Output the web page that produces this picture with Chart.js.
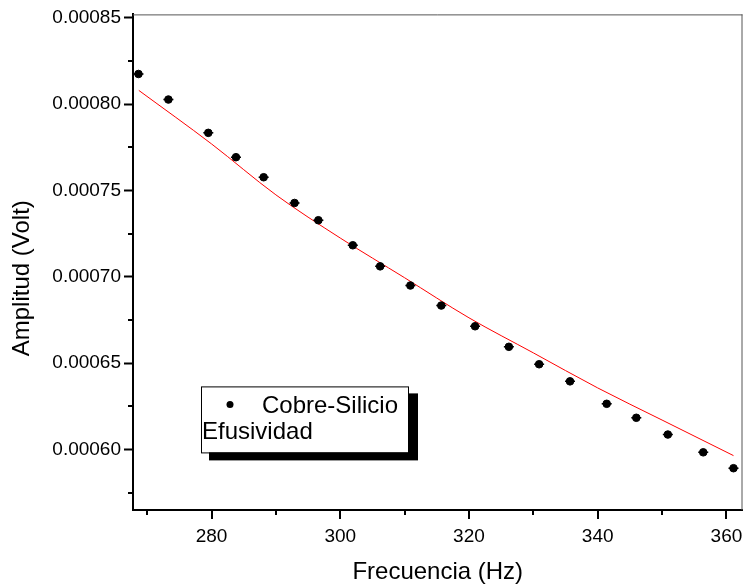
<!DOCTYPE html>
<html>
<head>
<meta charset="utf-8">
<script src="https://cdn.jsdelivr.net/npm/chart.js@4.4.0/dist/chart.umd.min.js"></script>
<style>
  body { margin: 0; background: #fff; }
</style>
</head>
<body>
<canvas id="myScatterChart" width="749" height="588"></canvas>
<script>
// Measured points (Hz, Volt)
const frecuencia = [268.65, 273.3, 279.5, 283.8, 288.1, 292.9, 296.6, 301.95, 306.2, 310.9,
  315.7, 320.95, 326.2, 330.9, 335.7, 341.4, 346.0, 350.9, 356.4, 361.1];
const amplitud = [0.0008175, 0.0008027, 0.0007834, 0.0007693, 0.0007577, 0.0007428, 0.0007328,
  0.0007183, 0.0007061, 0.0006950, 0.0006834, 0.0006714, 0.0006595, 0.0006494, 0.0006395,
  0.0006265, 0.0006184, 0.0006087, 0.0005984, 0.0005892];

// Fit curve
const fitFrecuencia = [268.7, 280, 290, 300, 310, 320, 330, 340, 350, 361.1];
const fitAmplitud = [0.000808, 0.000777, 0.0007475, 0.0007225, 0.0006995, 0.0006763, 0.000656,
  0.0006357, 0.0006171, 0.0005965];

const xMajorTicks = [280, 300, 320, 340, 360];
const xMinorTicks = [270, 290, 310, 330, 350];
const yMajorTicks = [0.0006, 0.00065, 0.0007, 0.00075, 0.0008, 0.00085];
const yMinorTicks = [0.000575, 0.000625, 0.000675, 0.000725, 0.000775, 0.000825];

const legendLines = ['Cobre-Silicio', 'Efusividad'];
const yTitle = 'Amplitud (Volt)';

const FONT = "'Liberation Sans', Arial, sans-serif";

const puntos = frecuencia.map((f, i) => ({ x: f, y: amplitud[i] }));
const ajuste = fitFrecuencia.map((f, i) => ({ x: f, y: fitAmplitud[i] }));

// frame, x ticks, minor ticks, y title and Origin style legend box
const originPlugin = {
  id: 'originStyle',
  afterDraw(chart) {
    const ctx = chart.ctx;
    const a = chart.chartArea;
    const xs = chart.scales.x, ys = chart.scales.y;
    ctx.save();
    ctx.strokeStyle = '#555';
    ctx.lineWidth = 1;
    ctx.beginPath();
    ctx.moveTo(a.left, a.top + 0.5);
    ctx.lineTo(a.right, a.top + 0.5);
    ctx.moveTo(a.right - 0.5, a.top);
    ctx.lineTo(a.right - 0.5, a.bottom);
    ctx.stroke();

    ctx.strokeStyle = '#000';
    ctx.lineWidth = 2;
    ctx.beginPath();
    xMajorTicks.forEach(v => {
      const px = Math.round(xs.getPixelForValue(v));
      ctx.moveTo(px, a.bottom);
      ctx.lineTo(px, a.bottom + 9);
    });
    xMinorTicks.forEach(v => {
      const px = Math.round(xs.getPixelForValue(v));
      ctx.moveTo(px, a.bottom);
      ctx.lineTo(px, a.bottom + 5);
    });
    yMinorTicks.forEach(v => {
      const py = Math.round(ys.getPixelForValue(v));
      ctx.moveTo(a.left, py);
      ctx.lineTo(a.left - 5, py);
    });
    ctx.stroke();

    // y axis title (sits a bit below the centre, like the original)
    ctx.fillStyle = '#000';
    ctx.font = '24px ' + FONT;
    ctx.save();
    ctx.translate(22, (a.top + a.bottom) / 2 + 16);
    ctx.rotate(-Math.PI / 2);
    ctx.textAlign = 'center';
    ctx.textBaseline = 'middle';
    ctx.fillText(yTitle, 0, 0);
    ctx.restore();

    // legend
    const bx = a.left + 68, by = a.top + 372, bw = 207, bh = 66;
    ctx.fillStyle = '#000';
    ctx.fillRect(bx + 8, by + 7, bw + 2, bh + 1);
    ctx.fillStyle = '#fff';
    ctx.fillRect(bx, by, bw, bh);
    ctx.strokeStyle = '#000';
    ctx.lineWidth = 1;
    ctx.strokeRect(bx + 0.5, by + 0.5, bw, bh);

    ctx.fillStyle = '#000';
    ctx.beginPath();
    ctx.arc(bx + 29, by + 18, 3.5, 0, Math.PI * 2);
    ctx.fill();

    ctx.textBaseline = 'alphabetic';
    ctx.textAlign = 'left';
    ctx.fillText(legendLines[0], bx + 61, by + 27);
    ctx.fillText(legendLines[1], bx + 1, by + 53);
    ctx.restore();
  }
};

const configScatter = {
  type: 'scatter',
  data: {
    datasets: [
      {
        label: legendLines[0],
        data: puntos,
        pointStyle: 'circle',
        pointRadius: 3.8,
        pointBackgroundColor: '#000',
        pointBorderColor: '#000',
        pointBorderWidth: 1,
        order: 0
      },
      {
        label: 'error',
        data: puntos,
        pointStyle: 'line',
        pointRadius: 5,
        pointBorderColor: '#000',
        pointBorderWidth: 1.5,
        order: 1
      },
      {
        label: 'ajuste',
        type: 'line',
        data: ajuste,
        borderColor: 'rgb(255, 0, 0)',
        borderWidth: 1,
        pointRadius: 0,
        cubicInterpolationMode: 'monotone',
        fill: false,
        order: 2
      }
    ]
  },
  options: {
    responsive: false,
    animation: false,
    devicePixelRatio: 1,
    layout: { padding: { top: 14, right: 1, left: 0, bottom: 0 } },
    plugins: {
      legend: { display: false },
      tooltip: { enabled: false }
    },
    scales: {
      x: {
        type: 'linear',
        min: 267.8,
        max: 362.5,
        afterBuildTicks: s => { s.ticks = xMajorTicks.map(v => ({ value: v })); },
        afterFit: s => { s.height = 78; s.paddingLeft = 0; s.paddingRight = 0; },
        border: { display: true, color: '#000', width: 2 },
        // tick marks are drawn by the plugin; zero label padding keeps the plot full width
        grid: { drawOnChartArea: false, drawTicks: true, tickLength: 15, tickWidth: 2, tickColor: 'rgba(0,0,0,0)' },
        ticks: {
          color: '#000',
          padding: 0,
          maxRotation: 0,
          font: { family: FONT, size: 19 },
          callback: v => String(v)
        },
        title: {
          display: true,
          text: 'Frecuencia (Hz)',
          color: '#000',
          font: { family: FONT, size: 24 },
          padding: { top: 0, bottom: 1 }
        }
      },
      y: {
        type: 'linear',
        min: 0.000565,
        max: 0.000852,
        afterBuildTicks: s => { s.ticks = yMajorTicks.map(v => ({ value: v })); },
        afterFit: s => { s.width = 133; },
        border: { display: true, color: '#000', width: 2 },
        grid: { drawOnChartArea: false, drawTicks: true, tickLength: 9, tickWidth: 2, tickColor: '#000' },
        ticks: {
          color: '#000',
          padding: 3,
          font: { family: FONT, size: 19 },
          callback: v => v.toFixed(5)
        },
        title: { display: false }
      }
    }
  },
  plugins: [originPlugin]
};

var scatterCanvas = document.getElementById('myScatterChart');
let chart1 = new Chart(scatterCanvas, configScatter);
</script>
</body>
</html>
